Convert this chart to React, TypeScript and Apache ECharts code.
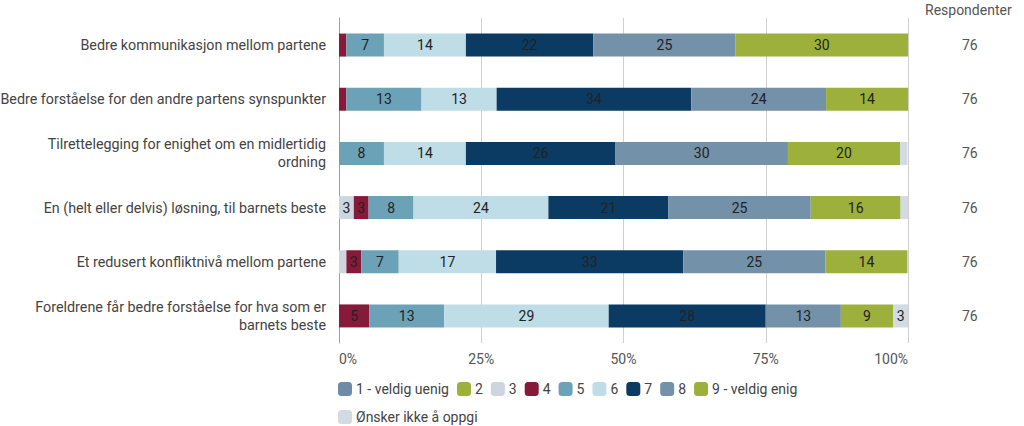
import React, { useEffect, useRef } from "react";
import * as echarts from "echarts";

const categories = [
  "Bedre kommunikasjon mellom partene",
  "Bedre forståelse for den andre partens synspunkter",
  "Tilrettelegging for enighet om en midlertidig\nordning",
  "En (helt eller delvis) løsning, til barnets beste",
  "Et redusert konfliktnivå mellom partene",
  "Foreldrene får bedre forståelse for hva som er\nbarnets beste",
];

const respondents = [76, 76, 76, 76, 76, 76];

const seriesNames = [
  "1 - veldig uenig",
  "2",
  "3",
  "4",
  "5",
  "6",
  "7",
  "8",
  "9 - veldig enig",
  "Ønsker ikke å oppgi",
];

const s1 = [0, 0, 0, 0, 0, 0];
const s2 = [0, 0, 0, 0, 0, 0];
const s3 = [0, 0, 0, 2.6, 1.3, 0];
const s4 = [1.3, 1.3, 0, 2.6, 2.6, 5.3];
const s5 = [6.6, 13.2, 7.9, 7.9, 6.6, 13.2];
const s6 = [14.4, 13.2, 14.4, 23.7, 17.1, 28.9];
const s7 = [22.4, 34.2, 26.3, 21.1, 32.9, 27.6];
const s8 = [25.0, 23.7, 30.3, 25.0, 25.0, 13.2];
const s9 = [30.3, 14.4, 19.7, 15.8, 14.4, 9.2];
const sNone = [0, 0, 1.3, 1.3, 0, 2.6];

const seriesValues = [s1, s2, s3, s4, s5, s6, s7, s8, s9, sNone];

const colors = [
  "#6D8DA6",
  "#9DB03C",
  "#CDD6DF",
  "#861A3B",
  "#6CA2B8",
  "#BFDDE6",
  "#0B3B62",
  "#7391A8",
  "#9DB03C",
  "#D2DAE2",
];

const xTicks = [0, 25, 50, 75, 100];

export default function App() {
  const ref = useRef<HTMLDivElement>(null);

  useEffect(() => {
    if (!ref.current) return;
    const chart = echarts.init(ref.current, null, { renderer: "svg" });
    const font = "Roboto";
    chart.setOption({
      animation: false,
      textStyle: { fontFamily: font },
      grid: {
        left: 339,
        right: 116,
        top: 18,
        bottom: 83,
        containLabel: false,
        outerBoundsMode: "none",
      },
      legend: {
        left: 333,
        top: 374,
        width: 490,
        itemWidth: 14,
        itemHeight: 14,
        itemGap: 8,
        icon: "roundRect",
        textStyle: { fontSize: 14, color: "#444", fontFamily: font, lineHeight: 20, padding: [0, 0, 0, -1] },
        data: seriesNames,
      },
      xAxis: {
        type: "value",
        min: xTicks[0],
        max: xTicks[xTicks.length - 1],
        interval: 25,
        axisLine: { show: false },
        axisTick: { show: false },
        splitLine: { show: true, lineStyle: { color: "#D0D0D0", width: 1 } },
        axisLabel: {
          formatter: "{value}%",
          color: "#555",
          fontSize: 14,
          margin: 9,
          alignMinLabel: "left",
          alignMaxLabel: "right",
        },
      },
      yAxis: [
        {
          type: "category",
          inverse: true,
          data: categories,
          axisLine: { show: true, lineStyle: { color: "#A0A0A0" } },
          axisTick: { show: false },
          axisLabel: { color: "#444", fontSize: 14.3, margin: 13, align: "right", lineHeight: 18 },
        },
        {
          type: "category",
          inverse: true,
          position: "right",
          data: respondents.map(String),
          axisLine: { show: false },
          axisTick: { show: false },
          axisLabel: { color: "#555", fontSize: 14, margin: 54, align: "left" },
        },
      ],
      graphic: [
        {
          type: "text",
          left: 925,
          top: 3,
          style: { text: "Respondenter", fill: "#555", fontSize: 14, fontFamily: font },
        },
      ],
      series: seriesNames.map((name, i) => ({
        name,
        type: "bar",
        stack: "total",
        barWidth: 23,
        yAxisIndex: 0,
        itemStyle: { color: colors[i] },
        label: {
          show: true,
          position: "inside",
          color: "#222",
          fontSize: 14,
          fontFamily: font,
          formatter: (p: any) => (p.value >= 2 ? String(Math.round(p.value)) : ""),
        },
        data: seriesValues[i],
      })),
    });
    return () => chart.dispose();
  }, []);

  return (
    <div
      ref={ref}
      style={{ position: "absolute", left: 0, top: 0, width: 1024, height: 426 }}
    />
  );
}
